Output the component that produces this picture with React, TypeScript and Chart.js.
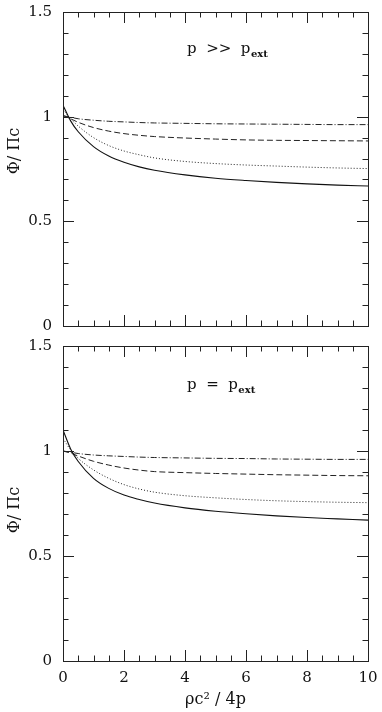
import React, { useEffect, useRef } from 'react';
import { Chart, registerables } from 'chart.js';

Chart.register(...registerables);

// ---------- data ----------
const xValues = [0, 0.25, 0.5, 1, 1.5, 2, 2.5, 3, 4, 5, 6, 7, 8, 9, 10];

// top panel: p >> p_ext
const topSolid = [1.055, 0.98, 0.928, 0.857, 0.812, 0.782, 0.76, 0.744, 0.722, 0.706, 0.695, 0.686, 0.679, 0.673, 0.669];
const topDotted = [1.035, 0.99, 0.955, 0.9, 0.862, 0.836, 0.818, 0.803, 0.786, 0.776, 0.769, 0.764, 0.759, 0.755, 0.752];
const topDashed = [1.005, 0.99, 0.973, 0.948, 0.931, 0.919, 0.911, 0.905, 0.898, 0.893, 0.889, 0.887, 0.886, 0.885, 0.884];
const topDashDot = [1.005, 0.997, 0.99, 0.983, 0.978, 0.975, 0.972, 0.97, 0.968, 0.966, 0.965, 0.964, 0.963, 0.962, 0.962];

// bottom panel: p = p_ext
const botSolid = [1.1, 1.01, 0.95, 0.87, 0.822, 0.79, 0.769, 0.752, 0.729, 0.713, 0.701, 0.691, 0.683, 0.677, 0.671];
const botDotted = [1.06, 1.005, 0.965, 0.91, 0.87, 0.84, 0.819, 0.804, 0.787, 0.777, 0.769, 0.763, 0.759, 0.756, 0.754];
const botDashed = [1.0, 0.99, 0.976, 0.951, 0.933, 0.919, 0.909, 0.902, 0.897, 0.893, 0.89, 0.887, 0.885, 0.883, 0.882];
const botDashDot = [1.0, 0.994, 0.988, 0.981, 0.977, 0.974, 0.971, 0.969, 0.967, 0.965, 0.964, 0.962, 0.961, 0.96, 0.96];

const xMin = 0;
const xMax = 10;
const xMajorStep = 2;
const xMinorStep = 0.5;
const yMin = 0;
const yMax = 1.5;
const yMajorStep = 0.5;
const yMinorStep = 0.1;

const yTitle = 'Φ/ Πc';
const xTitle = 'ρc² / 4p';
const topLabel = { main: 'p  >>  p', sub: 'ext' };
const botLabel = { main: 'p  =  p', sub: 'ext' };

const FONT = '"DejaVu Serif", "Liberation Serif", serif';

// ---------- helpers ----------
const lineStyles = [
  { dash: [] as number[], width: 1.1, color: '#111' },
  { dash: [1, 2], width: 1, color: '#222' },
  { dash: [6, 3], width: 1, color: '#222' },
  { dash: [6, 2, 1, 2], width: 1, color: '#222' },
];

function buildDatasets(series: number[][]) {
  return series.map((vals, i) => ({
    data: xValues.map((x, j) => ({ x, y: vals[j] })),
    borderColor: lineStyles[i].color,
    borderWidth: lineStyles[i].width,
    borderDash: lineStyles[i].dash,
    pointRadius: 0,
    fill: false,
    cubicInterpolationMode: 'monotone' as const,
  }));
}

function framePlugin(label: { main: string; sub: string }, labelY: number, yTitleCenter: number) {
  return {
    id: 'frameTicks',
    afterDatasetsDraw(chart: any) {
      const { ctx, chartArea } = chart;
      const { left, right, top, bottom } = chartArea;
      const xs = chart.scales.x;
      const ys = chart.scales.y;
      ctx.save();
      ctx.strokeStyle = '#222';
      ctx.lineWidth = 1;
      ctx.strokeRect(Math.round(left) + 0.5, Math.round(top) + 0.5, Math.round(right - left), Math.round(bottom - top));
      ctx.beginPath();
      const nx = Math.round((xMax - xMin) / xMinorStep);
      for (let i = 0; i <= nx; i++) {
        const v = xMin + i * xMinorStep;
        const px = Math.round(xs.getPixelForValue(v)) + 0.5;
        const major = Math.abs(v / xMajorStep - Math.round(v / xMajorStep)) < 1e-6;
        const len = major ? 11 : 5.5;
        ctx.moveTo(px, bottom);
        ctx.lineTo(px, bottom - len);
        ctx.moveTo(px, top);
        ctx.lineTo(px, top + len);
      }
      const ny = Math.round((yMax - yMin) / yMinorStep);
      for (let i = 0; i <= ny; i++) {
        const v = yMin + i * yMinorStep;
        const py = Math.round(ys.getPixelForValue(v)) + 0.5;
        const major = Math.abs(v / yMajorStep - Math.round(v / yMajorStep)) < 1e-6;
        const len = major ? 11 : 5.5;
        ctx.moveTo(left, py);
        ctx.lineTo(left + len, py);
        ctx.moveTo(right, py);
        ctx.lineTo(right - len, py);
      }
      ctx.stroke();

      // annotation
      ctx.fillStyle = '#111';
      ctx.textBaseline = 'alphabetic';
      ctx.textAlign = 'left';
      ctx.font = `15px ${FONT}`;
      const tx = 187;
      ctx.fillText(label.main, tx, labelY);
      const w = ctx.measureText(label.main).width;
      ctx.font = `bold 10px ${FONT}`;
      ctx.fillText(label.sub, tx + w + 0.5, labelY + 4);

      // y axis title
      ctx.translate(15, yTitleCenter);
      ctx.rotate(-Math.PI / 2);
      ctx.font = `16px ${FONT}`;
      ctx.textAlign = 'center';
      ctx.textBaseline = 'middle';
      ctx.fillText(yTitle, 0, 0);
      ctx.restore();
    },
  };
}

function makeConfig(series: number[][], isBottom: boolean, label: { main: string; sub: string }, labelY: number, yTitleCenter: number): any {
  return {
    type: 'line',
    data: { datasets: buildDatasets(series) },
    options: {
      animation: false,
      responsive: false,
      events: [],
      layout: { padding: { left: 0, right: 14, top: isBottom ? 11 : 12, bottom: isBottom ? 0 : 9 } },
      plugins: { legend: { display: false }, tooltip: { enabled: false } },
      scales: {
        x: {
          type: 'linear',
          min: xMin,
          max: xMax,
          grid: { display: false, drawTicks: false },
          border: { display: false },
          ticks: {
            display: isBottom,
            stepSize: xMajorStep,
            padding: 8,
            color: '#111',
            font: { family: FONT, size: 15 },
            maxRotation: 0,
            callback: (v: number) => String(v),
          },
          title: {
            display: isBottom,
            text: xTitle,
            color: '#111',
            font: { family: FONT, size: 16 },
            padding: { top: 0, bottom: 3 },
          },
          afterFit: (s: any) => {
            s.height = isBottom ? 51 : 0;
            s.paddingLeft = 0;
            s.paddingRight = 0;
          },
        },
        y: {
          min: yMin,
          max: yMax,
          grid: { display: false, drawTicks: false },
          border: { display: false },
          ticks: {
            stepSize: yMajorStep,
            padding: 11,
            color: '#111',
            font: { family: FONT, size: 15 },
            callback: (v: number) => String(v),
          },
          afterFit: (s: any) => {
            s.width = 63;
            s.paddingTop = 0;
            s.paddingBottom = 0;
          },
        },
      },
    },
    plugins: [framePlugin(label, labelY, yTitleCenter)],
  };
}

function Panel({ top, height, series, isBottom, label, labelY, yTitleCenter }: any) {
  const ref = useRef<HTMLCanvasElement | null>(null);
  useEffect(() => {
    if (!ref.current) return;
    const chart = new Chart(ref.current, makeConfig(series, isBottom, label, labelY, yTitleCenter));
    return () => chart.destroy();
  }, []);
  return (
    <canvas
      ref={ref}
      width={382}
      height={height}
      style={{ position: 'absolute', left: 0, top, width: 382, height }}
    />
  );
}

export default function App() {
  return (
    <div style={{ position: 'absolute', left: 0, top: 0, width: 382, height: 712, background: '#fff', overflow: 'hidden' }}>
      <Panel
        top={0}
        height={335}
        series={[topSolid, topDotted, topDashed, topDashDot]}
        isBottom={false}
        label={topLabel}
        labelY={53}
        yTitleCenter={151}
      />
      <Panel
        top={335}
        height={377}
        series={[botSolid, botDotted, botDashed, botDashDot]}
        isBottom={true}
        label={botLabel}
        labelY={54}
        yTitleCenter={175}
      />
    </div>
  );
}
